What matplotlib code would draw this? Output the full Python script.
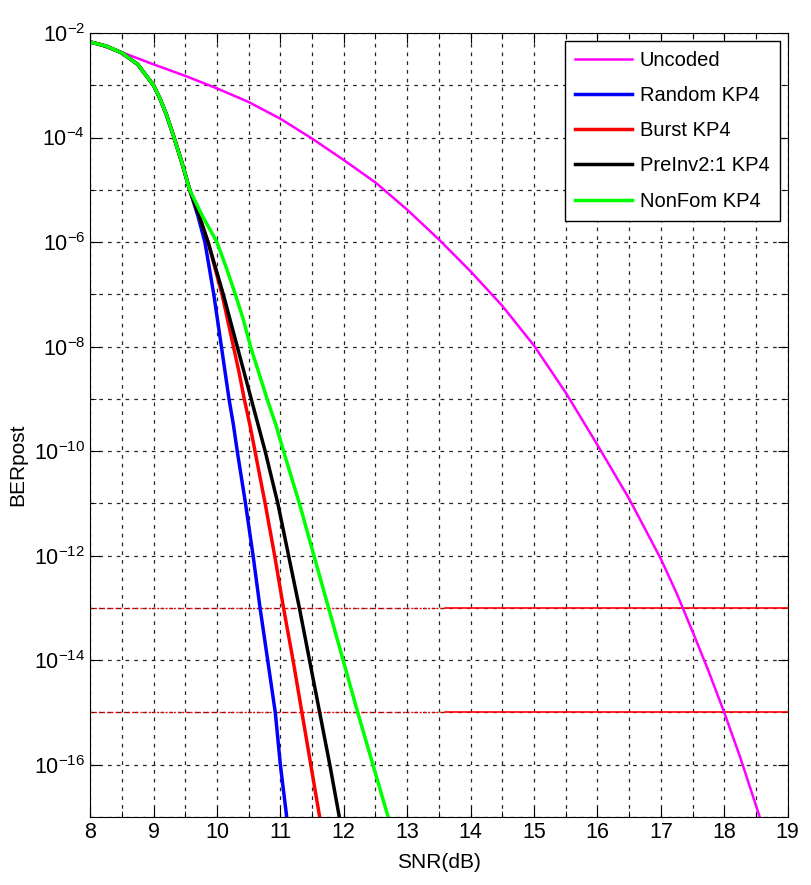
import numpy as np
import matplotlib
matplotlib.use("Agg")
import matplotlib.pyplot as plt
from matplotlib.ticker import FixedLocator, NullFormatter, MultipleLocator

plt.rcParams['font.family'] = ['Liberation Sans', 'DejaVu Sans']
plt.rcParams['mathtext.fontset'] = 'custom'
plt.rcParams['mathtext.rm'] = 'Liberation Sans'
plt.rcParams['mathtext.it'] = 'Liberation Sans'

# SNR (dB) y log10(BER)
snr_uncoded = [8, 8.5, 9, 9.5, 10, 10.5, 11, 11.5, 12, 12.5, 13, 13.5, 14, 14.5,
               15, 15.5, 16, 16.5, 17, 17.25, 17.5, 17.75, 18, 18.25, 18.56]
log_uncoded = [-2.17, -2.37, -2.6, -2.82, -3.06, -3.32, -3.64, -4.02, -4.43, -4.86,
               -5.38, -5.95, -6.56, -7.22, -7.98, -8.88, -9.88, -10.91, -12.06, -12.72,
               -13.45, -14.2, -15.0, -15.85, -17.0]

# tramo común de las curvas codificadas
snr_common = [8, 8.25, 8.5, 8.75, 9.0, 9.1, 9.2, 9.31, 9.44]
log_common = [-2.17, -2.25, -2.38, -2.6, -3.0, -3.25, -3.55, -3.95, -4.45]

log_levels = [-5, -5.5, -6, -6.5, -7, -7.5, -8, -8.5, -9, -9.5, -10, -11, -12,
              -13, -14, -15, -16, -17]
snr_random = [9.57, 9.7, 9.81, 9.88, 9.95, 10.01, 10.07, 10.13, 10.19, 10.26,
              10.32, 10.45, 10.57, 10.68, 10.8, 10.92, 11.0, 11.1]
snr_burst = [9.57, 9.72, 9.86, 9.97, 10.08, 10.17, 10.26, 10.35, 10.43, 10.52,
             10.6, 10.76, 10.91, 11.05, 11.2, 11.34, 11.48, 11.62]
snr_preinv = [9.57, 9.72, 9.86, 9.98, 10.1, 10.21, 10.32, 10.43, 10.54, 10.65,
              10.76, 10.96, 11.13, 11.3, 11.46, 11.62, 11.78, 11.93]
snr_nonfom = [9.57, 9.77, 10.0, 10.15, 10.29, 10.42, 10.53, 10.66, 10.79, 10.93,
              11.05, 11.3, 11.53, 11.76, 11.99, 12.22, 12.46, 12.7]

thresholds = [1e-13, 1e-15]

fig = plt.figure(figsize=(8.12, 8.85), dpi=100)
ax = fig.add_axes([0.111, 0.0768, 0.859, 0.8859])

# líneas umbral: punteadas a la izquierda, continuas a la derecha
for th in thresholds:
    ax.plot([8, 13.6], [th, th], color='red', linestyle=(0, (1.5, 1.5)), linewidth=1.0)
    ax.plot([13.6, 19], [th, th], color='red', linestyle='-', linewidth=1.2)

ax.plot(snr_uncoded, 10.0 ** np.array(log_uncoded), color='#FF00FF', linewidth=1.8, label='Uncoded')

coded = [
    (snr_random, '#0000FF', 'Random KP4'),
    (snr_burst, '#FF0000', 'Burst KP4'),
    (snr_preinv, 'black', 'PreInv2:1 KP4'),
    (snr_nonfom, '#00FF00', 'NonFom KP4'),
]
for snr, color, label in coded:
    x = snr_common + snr
    y = 10.0 ** np.array(log_common + log_levels)
    ax.plot(x, y, color=color, linewidth=2.5, label=label)

ax.set_yscale('log')
ax.set_xlim(8, 19)
ax.set_ylim(1e-17, 1e-2)

ax.xaxis.set_major_locator(MultipleLocator(1))
ax.xaxis.set_minor_locator(MultipleLocator(0.5))
ax.yaxis.set_major_locator(FixedLocator([10.0 ** e for e in range(-16, -1, 2)]))
ax.yaxis.set_minor_locator(FixedLocator([10.0 ** e for e in range(-17, -1, 2)]))
ax.yaxis.set_minor_formatter(NullFormatter())

ax.grid(True, which='both', color='black', linestyle=(0, (3, 4)), linewidth=0.9, alpha=0.85)
ax.tick_params(which='both', direction='in', top=True, right=True, labelsize=15.5)
ax.tick_params(which='major', length=7)
ax.tick_params(which='minor', length=4)

ax.set_xlabel('SNR(dB)', fontsize=15, va='top')
ax.set_ylabel('BERpost', fontsize=15)
ax.xaxis.set_label_coords(0.5, -0.046)
ax.yaxis.set_label_coords(-0.09, 0.449)

leg = ax.legend(loc='upper right', fontsize=14.5, fancybox=False, edgecolor='black',
                framealpha=1, handlelength=2.8, borderpad=0.5, labelspacing=0.8,
                handletextpad=0.4, borderaxespad=0.4)
leg.get_frame().set_linewidth(1.0)

plt.savefig('out.png')
